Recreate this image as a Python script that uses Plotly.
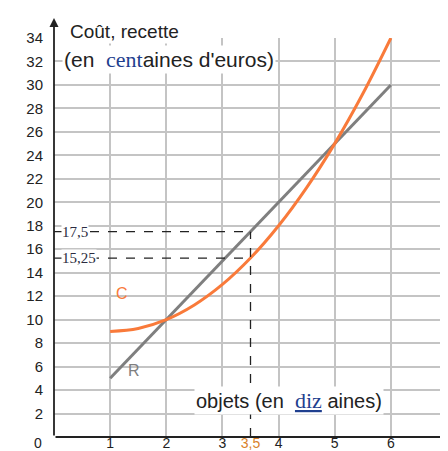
import plotly.graph_objects as go

# Data
x_vals = [1, 1.5, 2, 2.5, 3, 3.5, 4, 4.5, 5, 5.5, 6]
cout_C = [9, 9.25, 10, 11.25, 13, 15.25, 18, 21.25, 25, 29.25, 34]
recette_x = [1, 6]
recette_R = [5, 30]
x_ticks = [1, 2, 3, 4, 5, 6, 7]
x_tick_text = ["1", "2", "3", "4", "5", "6", ""]
y_ticks = list(range(2, 36, 2))
x_mark = 3.5
x_mark_label = "3,5"
y_marks = [17.5, 15.25]
y_mark_labels = ["17,5", "15,25"]

XMAX, YMAX = 7, 34          # grid extent
XARROW, YARROW = 7.1, 35.7  # axis arrow tips


def py(v):
    """data y -> paper y (plot area fills the paper domain)"""
    return v / YMAX


fig = go.Figure()

shapes = []
for ym in y_marks:
    shapes.append(dict(type="line", x0=0, x1=x_mark, y0=ym, y1=ym, xref="x", yref="y",
                       line=dict(color="#222", width=1.3, dash="dash")))
shapes.append(dict(type="line", x0=x_mark, x1=x_mark, y0=0, y1=max(y_marks), xref="x", yref="y",
                   line=dict(color="#222", width=1.3, dash="dash")))

fig.add_trace(go.Scatter(x=recette_x, y=recette_R, mode="lines", cliponaxis=False,
                         line=dict(color="#7f7f7f", width=3), hoverinfo="skip"))
fig.add_trace(go.Scatter(x=x_vals, y=cout_C, mode="lines", line_shape="spline", cliponaxis=False,
                         line=dict(color="#f97a3a", width=3), hoverinfo="skip"))
# empty traces so the extra label axes are drawn
fig.add_trace(go.Scatter(x=[], y=[], xaxis="x2", yaxis="y", hoverinfo="skip"))
fig.add_trace(go.Scatter(x=[], y=[], xaxis="x3", yaxis="y", hoverinfo="skip"))

annotations = []
annotations.append(dict(x=XARROW, y=0, ax=0, ay=0, xref="x", yref="y", axref="x", ayref="y",
                        showarrow=True, arrowhead=2, arrowsize=1, arrowwidth=1.8, arrowcolor="#222", text=""))
annotations.append(dict(x=0, y=YARROW, ax=0, ay=0, xref="x", yref="y", axref="x", ayref="y",
                        showarrow=True, arrowhead=2, arrowsize=1, arrowwidth=1.8, arrowcolor="#222", text=""))

for ym, lab in zip(y_marks, y_mark_labels):
    annotations.append(dict(x=0.12, y=ym, xref="x", yref="y", xanchor="left", yanchor="middle",
                            text=lab, showarrow=False, bgcolor="white", borderpad=0,
                            font=dict(family="Liberation Serif", size=15, color="#2b2b40")))

annotations.append(dict(x=0.25, y=py(35.6), xref="x", yref="paper", xanchor="left", yanchor="top",
                        text="Coût, recette", showarrow=False, bgcolor="white",
                        font=dict(family="Liberation Sans", size=19, color="#222")))
annotations.append(dict(x=0.15, y=33.4, xref="x", yref="y", xanchor="left", yanchor="top",
                        text="(en  <span style='font-family:Liberation Serif;font-size:22px;color:#1f3f8f'>cent</span>aines d'euros)",
                        showarrow=False, bgcolor="white",
                        font=dict(family="Liberation Sans", size=21, color="#222")))
annotations.append(dict(x=2.5, y=3.1, xref="x", yref="y", xanchor="left", yanchor="middle",
                        text="objets (en  <span style='font-family:Liberation Serif;font-size:22px;color:#1f3f8f'><u>diz</u></span> aines)",
                        showarrow=False, bgcolor="white",
                        font=dict(family="Liberation Sans", size=20, color="#222")))
annotations.append(dict(x=1.22, y=12.2, xref="x", yref="y", text="C", showarrow=False,
                        font=dict(family="Liberation Sans", size=16, color="#f97a3a")))
annotations.append(dict(x=1.42, y=5.7, xref="x", yref="y", text="R", showarrow=False,
                        font=dict(family="Liberation Sans", size=16, color="#7f7f7f")))

base_x = dict(range=[0, XMAX], zeroline=False, showline=False, ticks="", fixedrange=True,
              ticklabelstandoff=-4)

fig.update_layout(
    width=448, height=451,
    margin=dict(l=46, r=9, t=30, b=22),
    paper_bgcolor="white", plot_bgcolor="white",
    showlegend=False,
    shapes=shapes, annotations=annotations,
    xaxis=dict(**base_x, showgrid=True, gridcolor="#c4c4c4", gridwidth=2,
               tickvals=x_ticks, ticktext=x_tick_text,
               tickfont=dict(family="Liberation Sans", size=14, color="#222")),
    xaxis2=dict(**base_x, overlaying="x", anchor="y", side="bottom", showgrid=False,
                tickvals=[x_mark], ticktext=[x_mark_label],
                tickfont=dict(family="Liberation Sans", size=14, color="#d9822b")),
    xaxis3=dict(**base_x, overlaying="x", anchor="y", side="bottom", showgrid=False,
                tickvals=[0], ticktext=["0"], ticklabelshift=-16,
                tickfont=dict(family="Liberation Sans", size=14, color="#222")),
    yaxis=dict(range=[0, YMAX], showgrid=True, gridcolor="#c4c4c4", gridwidth=2,
               zeroline=False, showline=False,
               tickvals=y_ticks, ticktext=[str(v) for v in y_ticks], ticks="",
               ticklabelstandoff=10,
               tickfont=dict(family="Liberation Sans", size=15, color="#222"), fixedrange=True),
)

fig.write_html("out.html")
